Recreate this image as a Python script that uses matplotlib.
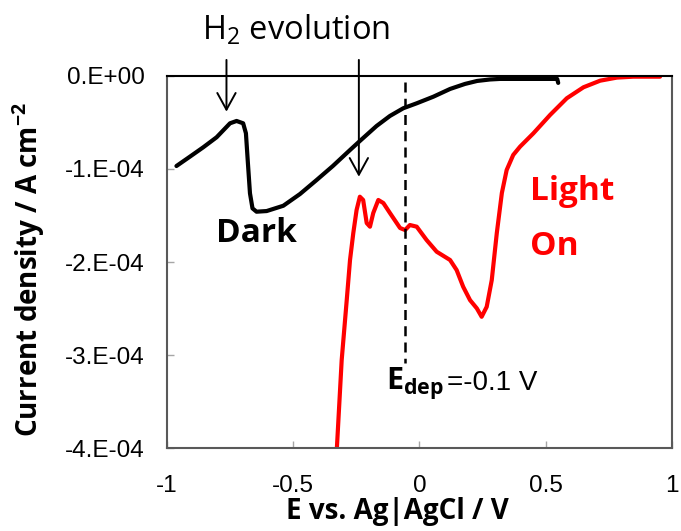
import numpy as np
import matplotlib
matplotlib.use('Agg')
import matplotlib.pyplot as plt

plt.rcParams['font.family'] = ['Open Sans', 'DejaVu Sans']
plt.rcParams['mathtext.fontset'] = 'custom'
plt.rcParams['mathtext.rm'] = 'Open Sans'
plt.rcParams['mathtext.bf'] = 'Open Sans:bold'
plt.rcParams['axes.unicode_minus'] = False

# 暗态曲线 (E / V, j / 1e-4 A cm-2)
dark_e = [-0.962, -0.909, -0.856, -0.803, -0.750, -0.724, -0.698, -0.687, -0.680,
          -0.671, -0.661, -0.645, -0.605, -0.539, -0.473, -0.407, -0.343, -0.275,
          -0.236, -0.170, -0.117, -0.064, -0.011, 0.055, 0.121, 0.180, 0.228, 0.279,
          0.319, 0.545, 0.549]
dark_j = [-0.968, -0.868, -0.767, -0.659, -0.509, -0.484, -0.509, -0.616, -0.903,
          -1.261, -1.423, -1.459, -1.452, -1.395, -1.269, -1.118, -0.968, -0.796,
          -0.699, -0.538, -0.430, -0.347, -0.294, -0.223, -0.140, -0.086, -0.054, -0.038,
          -0.032, -0.032, -0.075]

# 光照曲线
light_e = [-0.327, -0.308, -0.288, -0.275, -0.262, -0.249, -0.236, -0.223, -0.209,
           -0.196, -0.183, -0.163, -0.143, -0.117, -0.077, -0.057, -0.038, -0.011,
           0.028, 0.068, 0.121, 0.147, 0.173, 0.200, 0.227, 0.246, 0.266, 0.286,
           0.306, 0.326, 0.345, 0.371, 0.398, 0.451, 0.517, 0.583, 0.649, 0.715,
           0.781, 0.846, 0.952]
light_j = [-4.0, -3.054, -2.409, -1.978, -1.688, -1.441, -1.298, -1.333, -1.581,
           -1.620, -1.473, -1.333, -1.366, -1.473, -1.634, -1.656, -1.602, -1.620,
           -1.763, -1.889, -1.978, -2.086, -2.266, -2.409, -2.498, -2.588, -2.481, -2.194,
           -1.688, -1.258, -1.011, -0.849, -0.760, -0.616, -0.419, -0.240, -0.122, -0.051,
           -0.018, -0.008, -0.008]

x_ticks = [-1, -0.5, 0, 0.5, 1]
x_ticklabels = ['-1', '-0.5', '0', '0.5', '1']
y_ticks = [0, -1e-4, -2e-4, -3e-4, -4e-4]
y_ticklabels = ['0.E+00', '-1.E-04', '-2.E-04', '-3.E-04', '-4.E-04']

e_dep = -0.057
arrow_e = [-0.764, -0.240]
arrow_tip = [-0.384, -1.083]
scale = 1e-4

fig = plt.figure(figsize=(6.81, 5.31), dpi=100)
ax = fig.add_axes([0.245, 0.156, 0.742, 0.701])

ax.plot(dark_e, np.array(dark_j) * scale, color='black', lw=3, solid_capstyle='round',
        solid_joinstyle='round')
ax.plot(light_e, np.array(light_j) * scale, color='#ff0000', lw=3, solid_capstyle='round',
        solid_joinstyle='round')
ax.plot([e_dep, e_dep], [-0.065 * scale, -3.08 * scale], color='black', lw=1.8,
        linestyle=(0, (4, 2.5)))

# H2 evolution 箭头
for xe, yt in zip(arrow_e, arrow_tip):
    ax.annotate('', xy=(xe, yt * scale), xytext=(xe, 0.172 * scale),
                arrowprops=dict(arrowstyle='->,head_length=0.6,head_width=0.33',
                                lw=1.4, color='black', mutation_scale=20, shrinkA=0, shrinkB=0),
                annotation_clip=False)
ax.text(-0.49, 0.49 * scale, 'H$_2$ evolution', fontsize=23.5, ha='center', va='center',
        clip_on=False)

ax.text(-0.806, -1.785 * scale, 'Dark', fontsize=24, fontweight='bold', ha='left',
        va='baseline')
ax.text(0.438, -1.333 * scale, 'Light', fontsize=24, fontweight='bold', color='#ff0000',
        ha='left', va='baseline')
ax.text(0.438, -1.925 * scale, 'On', fontsize=24, fontweight='bold', color='#ff0000',
        ha='left', va='baseline')
ax.text(-0.133, -3.376 * scale, r'$\mathbf{E}_{\mathbf{dep}}$', fontsize=22, ha='left',
        va='baseline')
ax.text(0.109, -3.376 * scale, '=-0.1 V', fontsize=20, family='Liberation Sans',
        ha='left', va='baseline')

ax.set_xlim(-1, 1)
ax.set_ylim(-4e-4, 0)
ax.set_xticks(x_ticks)
ax.set_xticklabels(x_ticklabels, family='Liberation Sans', fontsize=17.5)
ax.set_yticks(y_ticks)
ax.set_yticklabels(y_ticklabels, family='Liberation Sans', fontsize=17.5)
ax.tick_params(direction='in', length=5, width=1, color='#a6a6a6')
ax.tick_params(axis='y', pad=16)
ax.tick_params(axis='x', pad=19)

for s in ['left', 'right', 'bottom']:
    ax.spines[s].set_color('#595959')
    ax.spines[s].set_linewidth(1.5)
ax.spines['top'].set_color('black')
ax.spines['top'].set_linewidth(1.5)

ax.set_xlabel('E vs. Ag|AgCl / V', fontsize=20, fontweight='bold')
ax.xaxis.set_label_coords(0.456, -0.13)
ax.set_ylabel(r'Current density / A cm$^{\mathbf{-2}}$', fontsize=20, fontweight='bold')
ax.yaxis.set_label_coords(-0.238, 0.481)

fig.savefig('out.png', dpi=100)
